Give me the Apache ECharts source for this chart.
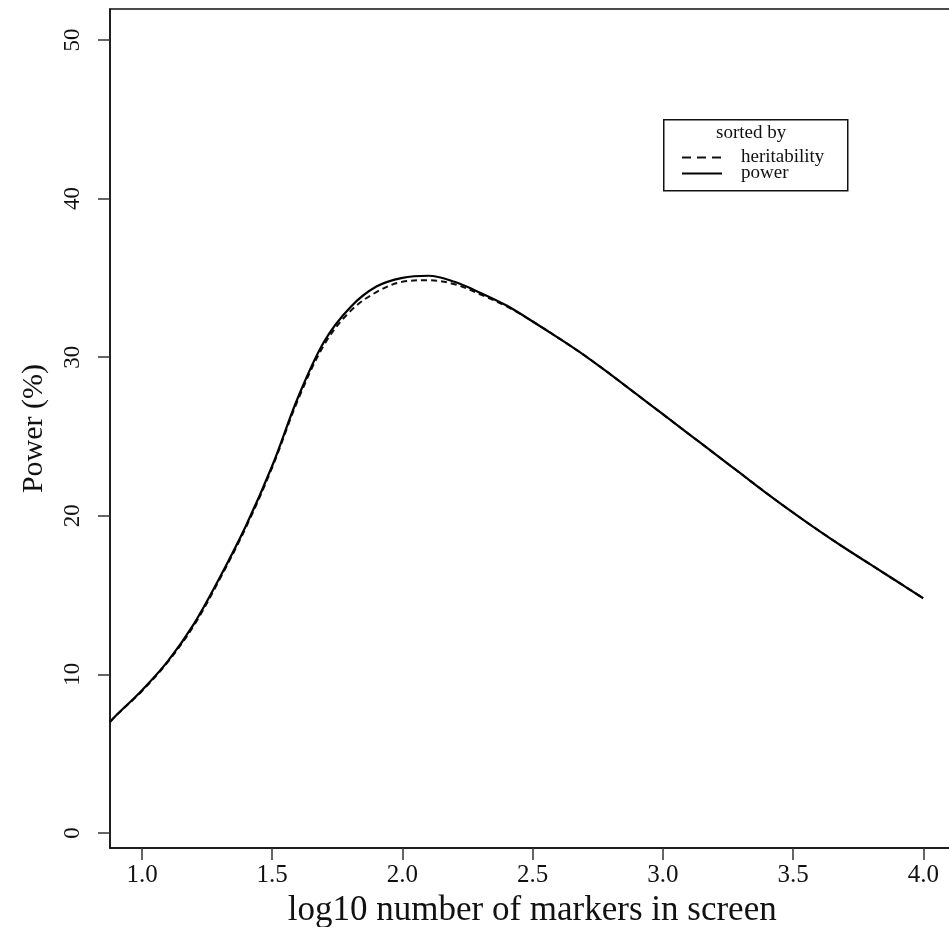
<!DOCTYPE html>
<html>
<head>
<meta charset="utf-8">
<script src="https://cdn.jsdelivr.net/npm/echarts@6/dist/echarts.min.js"></script>
<style>
html,body{margin:0;padding:0;background:#fff;}
#chart{width:949px;height:927px;}
</style>
</head>
<body>
<div id="chart"></div>
<script>
// log10 number of markers in screen
const xValues = [0.877, 0.9, 1.0, 1.1, 1.2, 1.3, 1.4, 1.5, 1.6, 1.7, 1.8, 1.9, 2.0, 2.1, 2.2, 2.3, 2.4, 2.5, 2.6, 2.7, 2.8, 2.9, 3.0, 3.1, 3.2, 3.3, 3.4, 3.5, 3.6, 3.7, 3.8, 3.9, 4.0];
// Power (%) when markers sorted by power (solid)
const powerSorted = [7.0, 7.4, 9.0, 10.85, 13.2, 16.15, 19.4, 23.15, 27.5, 31.0, 33.15, 34.45, 35.0, 35.13, 34.75, 34.05, 33.25, 32.25, 31.2, 30.1, 28.9, 27.65, 26.4, 25.15, 23.9, 22.65, 21.4, 20.2, 19.05, 17.95, 16.9, 15.85, 14.8];
// Power (%) when markers sorted by heritability (dashed)
const heritabilitySorted = [7.0, 7.4, 8.95, 10.8, 13.1, 16.05, 19.3, 23.05, 27.35, 30.8, 32.9, 34.1, 34.75, 34.85, 34.6, 33.95, 33.2, 32.25, 31.2, 30.1, 28.9, 27.65, 26.4, 25.15, 23.9, 22.65, 21.4, 20.2, 19.05, 17.95, 16.9, 15.85, 14.8];
const xTicks = [1.0, 1.5, 2.0, 2.5, 3.0, 3.5, 4.0];
const yTicks = [0, 10, 20, 30, 40, 50];
const seriesNames = ['heritability', 'power'];

const pairs = ys => xValues.map((x, i) => [x, ys[i]]);
const FONT = '"Liberation Serif", "Times New Roman", serif';
const INK = '#111';

const chart = echarts.init(document.getElementById('chart'), null, {renderer: 'canvas'});
chart.setOption({
  animation: false,
  backgroundColor: '#fff',
  grid: {
    left: 110, top: 9, width: 844.5, height: 839,
    containLabel: false, outerBoundsMode: 'none',
    show: true, borderColor: INK, borderWidth: 1.5, backgroundColor: 'transparent'
  },
  xAxis: {
    type: 'value', min: 0.877, max: 4.12,
    name: 'log10 number of markers in screen',
    nameLocation: 'middle', nameGap: 42,
    nameTextStyle: {fontFamily: FONT, fontSize: 35, color: INK},
    axisLine: {show: true, onZero: false, lineStyle: {color: INK, width: 1.5}},
    axisTick: {show: true, length: 12, customValues: xTicks, lineStyle: {color: '#333', width: 1.5}},
    axisLabel: {customValues: xTicks, margin: 15, fontFamily: FONT, fontSize: 25, color: INK,
      formatter: v => v.toFixed(1)},
    splitLine: {show: false}
  },
  yAxis: {
    type: 'value', min: -0.95, max: 51.95,
    name: 'Power (%)',
    nameLocation: 'middle', nameGap: 61,
    nameTextStyle: {fontFamily: FONT, fontSize: 30, color: INK},
    axisLine: {show: true, onZero: false, lineStyle: {color: INK, width: 1.5}},
    axisTick: {show: true, length: 12, customValues: yTicks, lineStyle: {color: '#333', width: 1.5}},
    axisLabel: {customValues: yTicks, rotate: 90, margin: 26, fontFamily: FONT, fontSize: 23, color: INK},
    splitLine: {show: false}
  },
  legend: {
    data: [
      {name: seriesNames[0], lineStyle: {type: [9, 6]}},
      {name: seriesNames[1]}
    ],
    orient: 'vertical', left: 681, top: 148, padding: 0,
    itemWidth: 40, itemHeight: 14, itemGap: -3,
    itemStyle: {opacity: 0},
    textStyle: {fontFamily: FONT, fontSize: 19, color: INK, lineHeight: 16, padding: [0, 0, 0, 14]}
  },
  graphic: [
    {type: 'rect', left: 663, top: 119, shape: {width: 184, height: 71},
      style: {fill: 'transparent', stroke: INK, lineWidth: 1.5}, z: 10},
    {type: 'text', left: 716, top: 124,
      style: {text: 'sorted by', font: '19px ' + FONT, fill: INK}, z: 10}
  ],
  series: [
    {name: seriesNames[0], type: 'line', data: pairs(heritabilitySorted), smooth: 0.35,
      symbol: 'none', clip: true,
      lineStyle: {color: '#111', width: 2, type: [6, 4]}, itemStyle: {color: '#111'}},
    {name: seriesNames[1], type: 'line', data: pairs(powerSorted), smooth: 0.35,
      symbol: 'none', clip: true,
      lineStyle: {color: '#000', width: 2.2, type: 'solid'}, itemStyle: {color: '#000'}}
  ]
});
</script>
</body>
</html>
